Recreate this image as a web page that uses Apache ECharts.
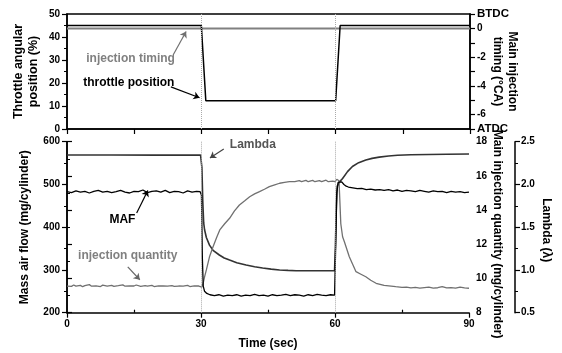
<!DOCTYPE html>
<html>
<head>
<meta charset="utf-8">
<script src="https://cdn.jsdelivr.net/npm/echarts@6/dist/echarts.min.js"></script>
<style>
html, body { margin: 0; padding: 0; background: #fff; }
#chart { width: 562px; height: 353px; }
</style>
</head>
<body>
<div id="chart"></div>
<script>
// Throttle step test: throttle angle and main injection timing (top),
// mass air flow, lambda and main injection quantity (bottom).

const throttlePosition = [[0, 45], [30, 45], [31, 12.3], [60, 12.3], [61, 45], [90, 45]];
const injectionTiming = [[0, 0], [90, 0]];

const massAirFlow = [
  [0, 483], [1, 481], [2, 485], [3, 482], [4, 484], [5, 480], [6, 484], [7, 486], [8, 482], [9, 484],
  [10, 481], [11, 483], [12, 486], [13, 482], [14, 480], [15, 484], [16, 483], [17, 487], [18, 481], [19, 484],
  [20, 485], [21, 482], [22, 486], [23, 481], [24, 484], [25, 483], [26, 480], [27, 485], [28, 482], [29, 484],
  [29.8, 483], [30.1, 475], [30.3, 330], [30.5, 262], [30.8, 250], [31.3, 245], [32, 242], [33, 240], [34, 242],
  [35, 239], [36, 241], [37, 240], [38, 242], [39, 239], [40, 241], [41, 240], [42, 243], [43, 240], [44, 241],
  [45, 239], [46, 242], [47, 240], [48, 241], [49, 243], [50, 240], [51, 242], [52, 241], [53, 239], [54, 242],
  [55, 240], [56, 243], [57, 241], [58, 240], [59, 242], [59.9, 241], [60.1, 330], [60.4, 480], [60.7, 505],
  [61, 509], [61.5, 506], [62, 500], [62.5, 496], [63, 494], [64, 492], [65, 490], [66, 491], [67, 488],
  [68, 489], [69, 487], [70, 488], [71, 486], [72, 488], [73, 485], [74, 487], [75, 484], [76, 486], [77, 485],
  [78, 483], [79, 486], [80, 484], [81, 482], [82, 485], [83, 483], [84, 484], [85, 481], [86, 484], [87, 482],
  [88, 483], [89, 481], [90, 482]
];

const lambda = [
  [0, 2.344], [10, 2.345], [20, 2.343], [29.9, 2.344], [30.2, 2.2], [30.4, 1.8], [30.6, 1.55], [30.8, 1.47],
  [31.2, 1.38], [31.9, 1.29], [32.7, 1.23], [34.1, 1.175], [35.2, 1.14], [36.4, 1.116], [38, 1.085],
  [40.1, 1.058], [42, 1.038], [43.8, 1.023], [45.7, 1.01], [47.6, 1.0], [49.5, 0.995], [51.3, 0.991],
  [55, 0.99], [59.9, 0.99], [60.1, 1.3], [60.3, 1.75], [60.5, 1.98], [61, 2.03], [61.7, 2.07], [62.8, 2.15],
  [63.9, 2.21], [65.3, 2.255], [66.9, 2.286], [68.3, 2.305], [69.9, 2.32], [72, 2.333], [74, 2.341],
  [77, 2.347], [81, 2.35], [85, 2.353], [90, 2.356]
];

const injectionQuantity = [
  [0, 9.56], [1, 9.54], [1.5, 9.62], [2, 9.55], [3, 9.6], [3.5, 9.52], [4, 9.58], [5, 9.64], [5.5, 9.55],
  [6.5, 9.57], [7.5, 9.53], [8, 9.61], [9, 9.56], [10, 9.6], [10.5, 9.54], [11.5, 9.58], [12.5, 9.63],
  [13, 9.55], [14, 9.57], [15, 9.56], [15.5, 9.62], [16.5, 9.54], [17.5, 9.58], [18, 9.55], [19, 9.6],
  [19.5, 9.53], [20.5, 9.57], [21.5, 9.56], [22.5, 9.55], [23.5, 9.58], [24, 9.54], [25, 9.56], [26, 9.55],
  [27, 9.6], [27.5, 9.53], [28.5, 9.57], [29.5, 9.56], [29.9, 9.6], [30.2, 9.5], [30.5, 9.75], [30.8, 10.1],
  [31.2, 10.5], [31.9, 11.27], [32.7, 11.86], [33.5, 12.4], [34.2, 12.84], [35.3, 13.2], [36.4, 13.52],
  [37.5, 13.95], [38.6, 14.3], [39.8, 14.55], [40.9, 14.78], [42, 14.95], [43.1, 15.08], [44.2, 15.22],
  [45.3, 15.37], [46.5, 15.48], [47.6, 15.57], [48.7, 15.62], [49.8, 15.66], [51, 15.66], [52, 15.72],
  [52.5, 15.66], [53.5, 15.74], [54, 15.66], [55, 15.74], [55.5, 15.66], [56.5, 15.72], [57, 15.66],
  [58, 15.75], [58.5, 15.66], [59.5, 15.7], [60, 15.66], [60.4, 15.8], [60.9, 15.72], [61.3, 13.2],
  [61.7, 12.44], [62.1, 12.15], [62.5, 12.1], [63.2, 11.27], [64, 10.8], [64.7, 10.4], [65.8, 10.25],
  [66.9, 10.1], [68, 9.9], [69.2, 9.72], [71, 9.6], [73.6, 9.52], [75, 9.48], [76, 9.5], [77, 9.45],
  [78, 9.48], [79, 9.44], [80, 9.47], [81, 9.5], [82, 9.44], [83, 9.46], [84, 9.52], [85, 9.45], [86, 9.47],
  [87, 9.44], [88, 9.5], [89, 9.45], [90, 9.43]
];

const stepTimes = [30, 60];
const timeTicks = [0, 30, 60, 90];

const FONT = '"Liberation Sans", Arial, sans-serif';
const INK = '#000';

function tickLabel(extra) {
  return Object.assign({ color: INK, fontFamily: FONT, fontWeight: 'bold', fontSize: 10 }, extra || {});
}
function nameText(extra) {
  return Object.assign({ color: INK, fontFamily: FONT, fontWeight: 'bold', fontSize: 12, lineHeight: 15 }, extra || {});
}
const axisLine = { show: true, lineStyle: { color: INK, width: 1.5 } };
const tick = { show: true, length: 5, lineStyle: { color: INK, width: 1.2 } };
const minor = { show: true, splitNumber: 2, length: 3, lineStyle: { color: INK, width: 1 } };

// dotted guides at the throttle steps
function stepGuides() {
  return {
    silent: true, symbol: 'none', label: { show: false },
    lineStyle: { type: 'dotted', color: '#aaa', width: 1 },
    data: stepTimes.map(t => ({ xAxis: t }))
  };
}
function arrow(from, to, color) {
  return [
    { coord: from, lineStyle: { color: color, width: 1.2, type: 'solid' } },
    { coord: to }
  ];
}
function arrows(list) {
  return { silent: true, symbol: ['none', 'arrow'], symbolSize: 6, label: { show: false }, data: list };
}
function note(text, at, color) {
  return {
    coord: at, symbol: 'circle', symbolSize: 0, itemStyle: { color: 'transparent' },
    label: { show: true, position: 'inside', formatter: text, color: color,
             fontFamily: FONT, fontWeight: 'bold', fontSize: 12 }
  };
}

const chart = echarts.init(document.getElementById('chart'), null, { renderer: 'canvas' });

chart.setOption({
  animation: false,
  backgroundColor: '#fff',
  grid: [
    { left: 67, right: 92, top: 14, height: 115, show: true, borderColor: INK, borderWidth: 1.5, backgroundColor: 'transparent' },
    { left: 67, right: 92, top: 141.7, height: 171 }
  ],
  xAxis: [
    { gridIndex: 0, type: 'value', min: 0, max: 90, interval: 15, axisLine: axisLine, axisTick: tick,
      axisLabel: { show: false }, splitLine: { show: false } },
    { gridIndex: 1, type: 'value', min: 0, max: 90, interval: 30, axisLine: axisLine, axisTick: tick,
      axisLabel: tickLabel({ margin: 7, customValues: timeTicks }), splitLine: { show: false },
      name: 'Time (sec)', nameLocation: 'middle', nameGap: 23, nameMoveOverlap: false, nameTextStyle: nameText() },
    { gridIndex: 1, type: 'value', min: 0, max: 90, position: 'bottom', axisLine: { show: false },
      axisTick: { show: true, inside: true, length: 3, customValues: [15, 45, 75], lineStyle: { color: INK, width: 1.2 } },
      axisLabel: { show: false }, splitLine: { show: false } }
  ],
  yAxis: [
    { gridIndex: 0, type: 'value', position: 'left', min: 0, max: 50, interval: 10,
      axisLine: axisLine, axisTick: tick, minorTick: minor, splitLine: { show: false },
      axisLabel: tickLabel({ margin: 7 }),
      name: 'Throttle angular\nposition (%)', nameLocation: 'middle', nameRotate: 90, nameGap: 26,
      nameMoveOverlap: false, nameTextStyle: nameText({ fontSize: 12.5 }) },
    { gridIndex: 0, type: 'value', position: 'right', min: -7, max: 1, interval: 1,
      axisLine: axisLine, axisTick: tick, splitLine: { show: false },
      axisLabel: tickLabel({
        margin: 7,
        formatter: v => v === 1 ? '{e|BTDC}' : v === -7 ? '{e|ATDC}' : (v % 2 === 0 ? String(v) : ''),
        rich: { e: { fontFamily: FONT, fontWeight: 'bold', fontSize: 11.5, color: INK } }
      }),
      name: 'Main injection\ntiming (°CA)', nameLocation: 'middle', nameRotate: -90, nameGap: 20,
      nameMoveOverlap: false, nameTextStyle: nameText() },
    { gridIndex: 1, type: 'value', position: 'left', min: 200, max: 600, interval: 100,
      axisLine: axisLine, axisTick: tick, minorTick: minor, splitLine: { show: false },
      axisLabel: tickLabel({ margin: 7 }),
      name: 'Mass air flow (mg/cylinder)', nameLocation: 'middle', nameRotate: 90, nameGap: 35,
      nameMoveOverlap: false, nameTextStyle: nameText() },
    { gridIndex: 1, type: 'value', position: 'right', min: 8, max: 18, interval: 2,
      axisLine: axisLine, axisTick: tick, minorTick: minor, splitLine: { show: false },
      axisLabel: tickLabel({ margin: 7 }),
      name: 'Main injection quantity (mg/cylinder)', nameLocation: 'middle', nameRotate: -90, nameGap: 21,
      nameMoveOverlap: false, nameTextStyle: nameText({ padding: [0, 0, 0, 14] }) },
    { gridIndex: 1, type: 'value', position: 'right', offset: 46, min: 0.5, max: 2.5, interval: 0.5,
      axisLine: axisLine, axisTick: tick, minorTick: minor, splitLine: { show: false },
      axisLabel: tickLabel({ margin: 6, formatter: v => v.toFixed(1) }),
      name: 'Lambda (λ)', nameLocation: 'middle', nameRotate: -90, nameGap: 24,
      nameMoveOverlap: false, nameTextStyle: nameText({ padding: [0, 0, 0, 6] }) }
  ],
  series: [
    {
      name: 'throttle position', type: 'line', xAxisIndex: 0, yAxisIndex: 0, data: throttlePosition,
      showSymbol: false, lineStyle: { color: '#000', width: 1.5 }, z: 3,
      markLine: arrows([
        arrow([23.2, 18.3], [29.6, 13.6], '#000'),
        arrow([23.7, 32.2], [26.6, 42.4], '#707070')
      ]),
      markPoint: {
        silent: true,
        data: [note('injection timing', [14.2, 30.4], '#808080'), note('throttle position', [13.8, 20], '#000')]
      }
    },
    {
      name: 'injection timing', type: 'line', xAxisIndex: 0, yAxisIndex: 1, data: injectionTiming,
      showSymbol: false, lineStyle: { color: '#808080', width: 2 }, z: 2,
      markLine: stepGuides()
    },
    {
      name: 'MAF', type: 'line', xAxisIndex: 1, yAxisIndex: 2, data: massAirFlow,
      showSymbol: false, lineStyle: { color: '#000', width: 1.3 }, z: 3,
      markLine: arrows([
        arrow([35.1, 583], [32.0, 562], '#444'),
        arrow([15.6, 433], [18.1, 486], '#000'),
        arrow([13.6, 307], [16.3, 277], '#666')
      ]),
      markPoint: {
        silent: true,
        data: [
          note('Lambda', [41.6, 594], '#555'),
          note('MAF', [12.4, 417], '#000'),
          note('injection quantity', [13.6, 333], '#808080')
        ]
      }
    },
    {
      name: 'Lambda', type: 'line', xAxisIndex: 1, yAxisIndex: 4, data: lambda,
      showSymbol: false, lineStyle: { color: '#333', width: 1.6 }, z: 2,
      markLine: stepGuides()
    },
    {
      name: 'injection quantity', type: 'line', xAxisIndex: 1, yAxisIndex: 3, data: injectionQuantity,
      showSymbol: false, lineStyle: { color: '#707070', width: 1.3 }, z: 2
    }
  ]
});
</script>
</body>
</html>
